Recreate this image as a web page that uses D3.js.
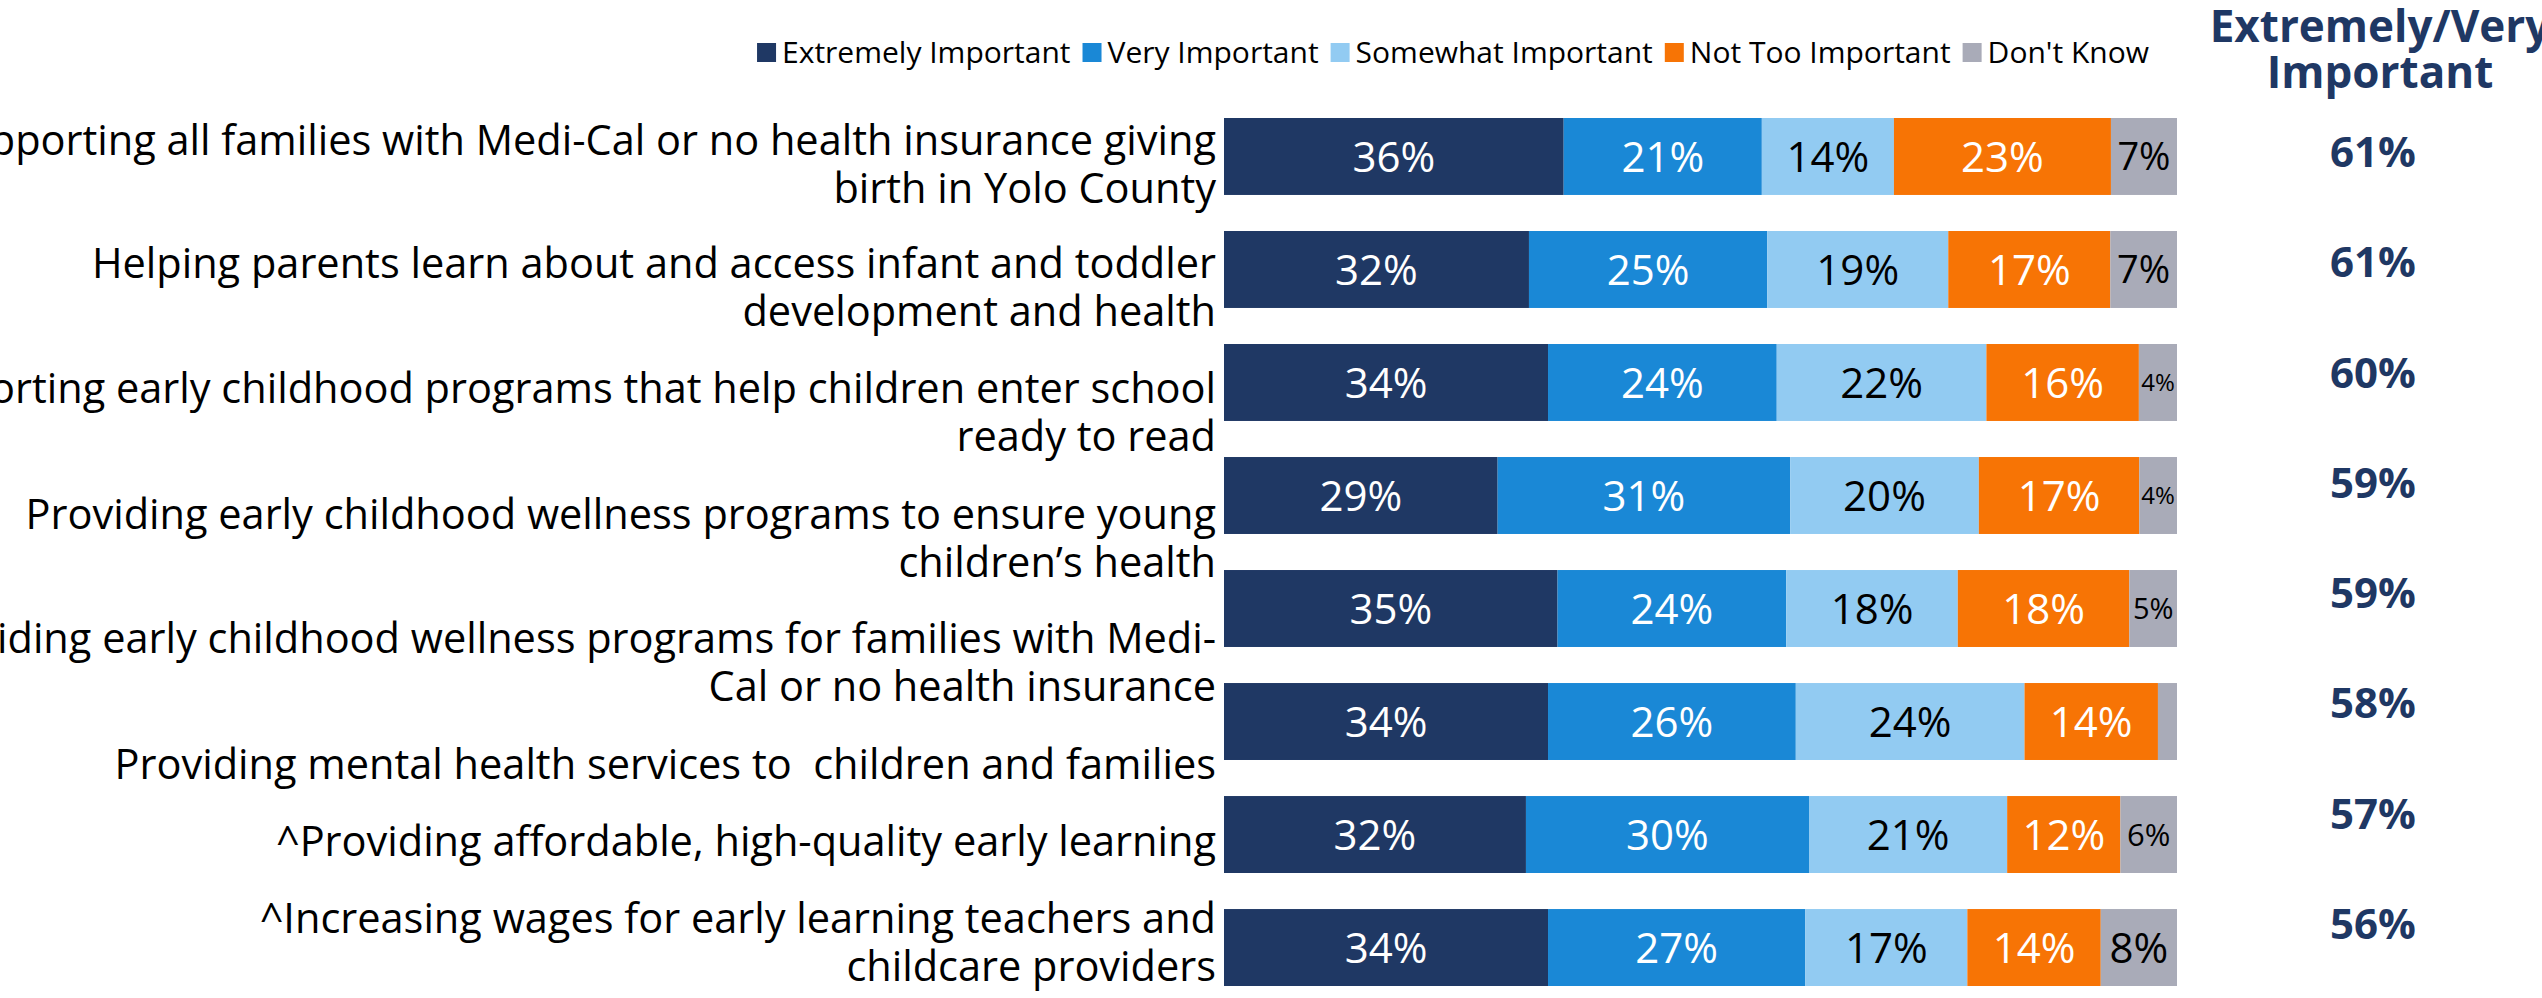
<!DOCTYPE html>
<html>
<head>
<meta charset="utf-8">
<script src="https://cdn.jsdelivr.net/npm/d3@7"></script>
<style>
  body { margin: 0; background: #fff; overflow: hidden; }
  svg text { white-space: pre; }
</style>
</head>
<body>
<div id="chart"></div>
<script>
// Data
const categories = [
  "Supporting all families with Medi-Cal or no health insurance giving\nbirth in Yolo County",
  "Helping parents learn about and access infant and toddler\ndevelopment and health",
  "Supporting early childhood programs that help children enter school\nready to read",
  "Providing early childhood wellness programs to ensure young\nchildren\u2019s health",
  "Providing early childhood wellness programs for families with Medi-\nCal or no health insurance",
  "Providing mental health services to  children and families",
  "^Providing affordable, high-quality early learning",
  "^Increasing wages for early learning teachers and\nchildcare providers"
]
const seriesNames = ["Extremely Important", "Very Important", "Somewhat Important", "Not Too Important", "Don't Know"]
const extremely = [36, 32, 34, 29, 35, 34, 32, 34]
const very      = [21, 25, 24, 31, 24, 26, 30, 27]
const somewhat  = [14, 19, 22, 20, 18, 24, 21, 17]
const notToo    = [23, 17, 16, 17, 18, 14, 12, 14]
const dontKnow  = [7, 7, 4, 4, 5, 2, 6, 8]
const netImportant = [61, 61, 60, 59, 59, 58, 57, 56]
const netTitle = ["Extremely/Very", "Important"]

// Styles
const colors = ["#1f3864", "#1a88d6", "#92cbf2", "#f77405", "#a9abb8"]
const textColors = ["#fff", "#fff", "#000", "#fff", "#000"]
const navy = "#1f3864"
const FONT = "'Open Sans', sans-serif"

const W = 2542, H = 998

const svg = d3.select("#chart").append("svg")
    .attr("width", W)
    .attr("height", H)
    .style("font-family", FONT)

// Build rows, normalised to 100% like a 100% stacked bar
const series = [extremely, very, somewhat, notToo, dontKnow]
const rows = categories.map((c, i) => {
    const vals = series.map(s => s[i])
    const total = d3.sum(vals)
    let acc = 0
    return {
        cat: c,
        segs: vals.map((v, k) => {
            const seg = {k: k, v: v, x0: acc / total, x1: (acc + v) / total}
            acc += v
            return seg
        })
    }
})

// Scales
const x = d3.scaleLinear().domain([0, 1]).range([1224, 2177])
const y = d3.scaleBand().domain(categories).range([118, 986]).paddingInner(0.319).paddingOuter(0)
const yNet = d3.scalePoint().domain(categories).range([167, 939])

// Bars
const row = svg.selectAll(".row")
    .data(rows)
    .join("g")
    .attr("class", "row")
    .attr("transform", d => `translate(0,${y(d.cat)})`)

row.selectAll("rect")
    .data(d => d.segs)
    .join("rect")
    .attr("x", d => x(d.x0))
    .attr("width", d => x(d.x1) - x(d.x0))
    .attr("height", y.bandwidth())
    .attr("fill", d => colors[d.k])

// value labels inside the bars (small slices got smaller text)
const labelSize = v => v <= 4 ? 24 : v == 5 ? 29 : v == 6 ? 31 : v == 7 ? 38 : 42
row.selectAll("text.val")
    .data(d => d.segs.filter(s => s.v >= 3))
    .join("text")
    .attr("class", "val")
    .attr("x", d => (x(d.x0) + x(d.x1)) / 2)
    .attr("y", y.bandwidth() / 2)
    .attr("dy", "0.36em")
    .attr("text-anchor", "middle")
    .attr("font-size", d => labelSize(d.v))
    .attr("fill", d => textColors[d.k])
    .text(d => d.v + "%")

// Category labels (placed as separate text boxes in the original)
const labelShift = [-1, 9, 21, 34, 44, 57, 21, -15]
svg.selectAll("text.cat")
    .data(categories)
    .join("text")
    .attr("class", "cat")
    .attr("x", 1216)
    .attr("y", (d, i) => y(d) + y.bandwidth() / 2 + labelShift[i])
    .attr("text-anchor", "end")
    .attr("font-size", 41.5)
    .attr("fill", "#000")
    .selectAll("tspan")
    .data(d => d.split("\n"))
    .join("tspan")
    .attr("x", 1216)
    .attr("dy", (d, i) => i ? 48 : 0)
    .text(d => d)

// Extremely/Very column
svg.selectAll("text.net")
    .data(netImportant)
    .join("text")
    .attr("class", "net")
    .attr("x", 2373)
    .attr("y", (d, i) => yNet(categories[i]))
    .attr("text-anchor", "middle")
    .attr("font-size", 42)
    .attr("font-weight", "bold")
    .attr("fill", navy)
    .text(d => d + "%")

svg.append("text")
    .attr("x", 2380)
    .attr("y", 42)
    .attr("text-anchor", "middle")
    .attr("font-size", 44)
    .attr("font-weight", "bold")
    .attr("fill", navy)
    .selectAll("tspan")
    .data(netTitle)
    .join("tspan")
    .attr("x", 2380)
    .attr("dy", (d, i) => i ? 46 : 0)
    .text(d => d)

// Legend
const legend = svg.append("g").attr("font-size", 30)
let lx = 0
seriesNames.forEach((name, k) => {
    const g = legend.append("g")
    g.append("rect").attr("y", -20).attr("width", 19).attr("height", 19).attr("fill", colors[k])
    const t = g.append("text").attr("x", 25).attr("y", 0).text(name)
    const w = 25 + t.node().getComputedTextLength()
    g.attr("transform", `translate(${lx},0)`)
    lx += w + 12
})
legend.attr("transform", `translate(${1453 - (lx - 12) / 2},63)`)
</script>
</body>
</html>
